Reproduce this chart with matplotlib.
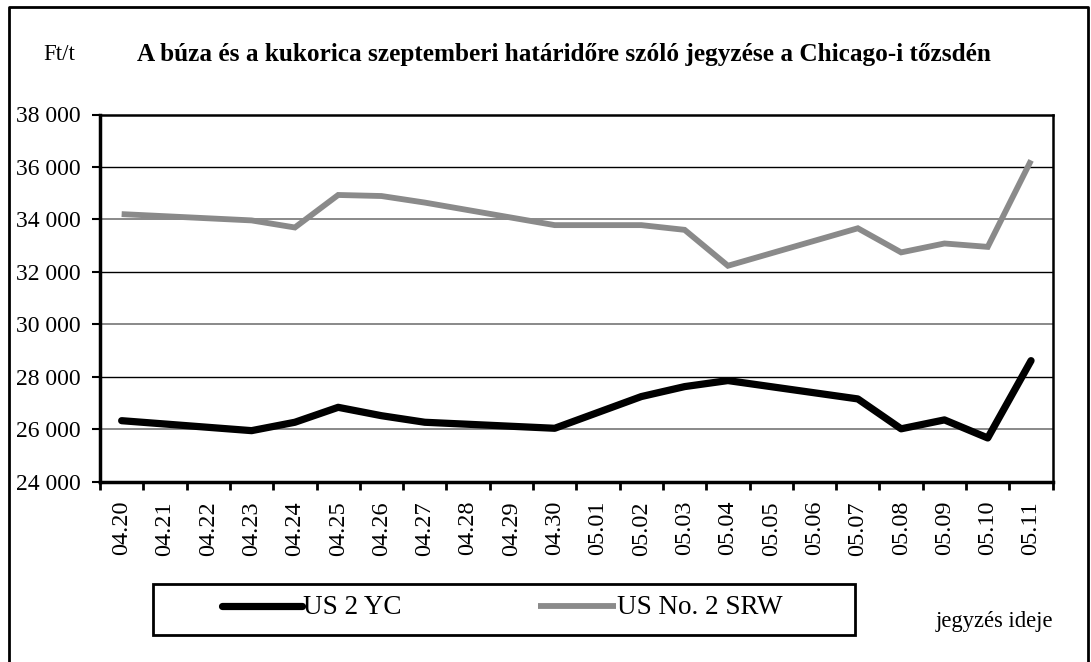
import numpy as np
import matplotlib
matplotlib.use("Agg")
import matplotlib.pyplot as plt
from matplotlib.lines import Line2D
from matplotlib.patches import Rectangle

plt.rcParams['font.family'] = ['Liberation Serif', 'DejaVu Serif']

dates = ["04.20", "04.21", "04.22", "04.23", "04.24", "04.25", "04.26", "04.27",
         "04.28", "04.29", "04.30", "05.01", "05.02", "05.03", "05.04", "05.05",
         "05.06", "05.07", "05.08", "05.09", "05.10", "05.11"]
# no quotes on weekends / holiday -> None
us2_yc = [26320, None, None, 25940, 26260, 26830, 26510, 26260,
          None, None, 26030, None, 27240, 27620, 27850, None,
          None, 27150, 26010, 26350, 25660, 28610]
us2_srw = [34200, None, None, 33960, 33690, 34930, 34890, 34640,
           None, None, 33780, None, 33780, 33600, 32230, None,
           None, 33660, 32740, 33080, 32950, 36250]
yticks = [24000, 26000, 28000, 30000, 32000, 34000, 36000, 38000]

W, H = 1091, 662
fig = plt.figure(figsize=(W / 100, H / 100), dpi=100)
ax = fig.add_axes([100 / W, 1 - 481.5 / H, 952.7 / W, 367 / H])

x = np.arange(len(dates))
yc = np.array([np.nan if v is None else v for v in us2_yc], dtype=float)
srw = np.array([np.nan if v is None else v for v in us2_srw], dtype=float)
m1 = ~np.isnan(yc)
m2 = ~np.isnan(srw)

# gridlines alternate black / grey like the original
for i, v in enumerate(yticks[1:-1]):
    col = '#808080' if i % 2 == 0 else 'black'
    ax.axhline(v, color=col, lw=1.3 if col != 'black' else 1.0, zorder=1)

ax.plot(x[m1], yc[m1], color='black', lw=5.2, solid_capstyle='round',
        solid_joinstyle='round', zorder=3)
ax.plot(x[m2], srw[m2], color='#8a8a8a', lw=4.2, solid_capstyle='butt',
        solid_joinstyle='miter', zorder=3)

ax.set_xlim(-0.5, len(dates) - 0.5)
ax.set_ylim(24000, 38000)
ax.set_yticks(yticks)
ax.set_yticklabels([f"{v:,}".replace(",", " ") for v in yticks], fontsize=17)
ax.set_xticks(x)
ax.set_xticklabels(dates, rotation=90, fontsize=17.5)
ax.set_xticks(np.arange(len(dates) + 1) - 0.5, minor=True)
ax.tick_params(axis='x', which='major', length=0, pad=14)
ax.tick_params(axis='x', which='minor', length=5.5, width=2, direction='out')
ax.tick_params(axis='y', length=5.8, width=1.5, direction='out', pad=8)

for s in ['left', 'bottom']:
    ax.spines[s].set_linewidth(2.5)
for s in ['top', 'right']:
    ax.spines[s].set_linewidth(1.8)

# texts
fig.text(43 / W, 1 - 55 / H, "Ft/t", fontsize=16.5, va='center', ha='left')
fig.text(137 / W, 1 - 55 / H,
         "A búza és a kukorica szeptemberi határidőre szóló jegyzése a Chicago-i tőzsdén",
         fontsize=18.2, fontweight='bold', va='center', ha='left')
fig.text(936 / W, 1 - 621 / H, "jegyzés ideje", fontsize=16.3, va='center', ha='left')

# legend box
fig.add_artist(Rectangle((153 / W, 1 - 635 / H), 702 / W, 51 / H, transform=fig.transFigure,
                         fill=False, edgecolor='black', lw=2))
fig.add_artist(Line2D([222 / W, 302 / W], [1 - 606 / H] * 2, transform=fig.transFigure,
                      color='black', lw=5.2, solid_capstyle='round'))
fig.text(303 / W, 1 - 608 / H, "US 2 YC", fontsize=19.5, va='center', ha='left')
fig.add_artist(Line2D([538 / W, 616 / W], [1 - 606 / H] * 2, transform=fig.transFigure,
                      color='#8a8a8a', lw=4.2, solid_capstyle='butt'))
fig.text(617 / W, 1 - 608 / H, "US No. 2 SRW", fontsize=19.5, va='center', ha='left')

# outer frame
fig.add_artist(Line2D([9 / W, 9 / W, 1088 / W, 1088 / W], [0, 1 - 7 / H, 1 - 7 / H, 0],
                      transform=fig.transFigure, color='black', lw=2))

fig.savefig("out.png", dpi=100)
